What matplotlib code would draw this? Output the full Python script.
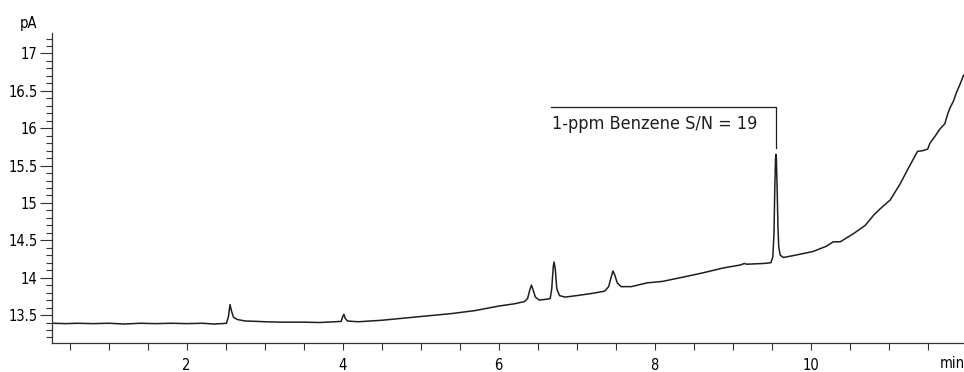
import matplotlib.pyplot as plt
from matplotlib.ticker import MultipleLocator, FuncFormatter

plt.rcParams['font.family'] = ['DejaVu Sans']
plt.rcParams['font.stretch'] = 'condensed'

# chromatogram trace (time in min, signal in pA)
time_min = [0.28, 0.45, 0.6, 0.8, 1.0, 1.2, 1.4, 1.6, 1.8, 2.0, 2.2, 2.35, 2.45, 2.51,
            2.535, 2.555, 2.575, 2.60, 2.65, 2.75, 2.9, 3.0, 3.2, 3.5, 3.7, 3.9, 3.98,
            4.0, 4.015, 4.03, 4.06, 4.2, 4.5, 4.8, 5.1, 5.4, 5.7, 6.0, 6.2, 6.33,
            6.37, 6.40, 6.42, 6.44, 6.47, 6.52, 6.6, 6.66, 6.68, 6.70, 6.71, 6.725,
            6.745, 6.78, 6.85, 7.0, 7.2, 7.36, 7.41, 7.44, 7.465, 7.49, 7.52, 7.57,
            7.7, 7.9, 8.1, 8.33, 8.6, 8.88, 9.1, 9.15, 9.18, 9.4, 9.49, 9.515, 9.53,
            9.54, 9.55, 9.555, 9.56, 9.57, 9.58, 9.59, 9.61, 9.65, 9.8, 10.03, 10.2,
            10.29, 10.38, 10.55, 10.7, 10.81, 10.9, 11.02, 11.15, 11.25, 11.37, 11.44,
            11.5, 11.53, 11.6, 11.65, 11.72, 11.76, 11.79, 11.83, 11.87, 11.92, 11.96,
            11.97]
signal_pa = [13.39, 13.385, 13.39, 13.385, 13.39, 13.38, 13.39, 13.385, 13.39, 13.385, 13.39, 13.38, 13.385, 13.39,
             13.48, 13.64, 13.55, 13.47, 13.44, 13.42, 13.415, 13.41, 13.405, 13.405, 13.40, 13.41, 13.415,
             13.48, 13.51, 13.46, 13.42, 13.41, 13.43, 13.46, 13.49, 13.52, 13.56, 13.62, 13.65, 13.68,
             13.72, 13.84, 13.90, 13.84, 13.74, 13.70, 13.71, 13.72, 13.85, 14.15, 14.21, 14.12,
             13.85, 13.76, 13.74, 13.76, 13.79, 13.82, 13.88, 14.00, 14.09, 14.03, 13.93, 13.88,
             13.88, 13.93, 13.95, 14.00, 14.06, 14.13, 14.17, 14.19, 14.18, 14.19, 14.20, 14.28, 14.60,
             15.20, 15.60, 15.65, 15.60, 15.20, 14.70, 14.42, 14.30, 14.27, 14.30, 14.35, 14.42,
             14.48, 14.48, 14.59, 14.70, 14.84, 14.93, 15.04, 15.26, 15.46, 15.69, 15.70,
             15.72, 15.80, 15.90, 15.98, 16.06, 16.20, 16.28, 16.36, 16.48, 16.60, 16.71,
             16.70]

peak_label = '1-ppm Benzene S/N = 19'
peak_window = (9.0, 10.0)  # where the benzene peak sits
label_level = 16.285       # height of the annotation bracket
label_start = 6.67         # left end of the bracket

fig = plt.figure(figsize=(9.64, 3.72), dpi=100)
ax = fig.add_axes([0.0543, 0.0788, 0.9457, 0.8317])

ax.plot(time_min, signal_pa, color='#1e1e1e', lw=1.1)

# bracket over the benzene peak
in_win = [(v, t) for t, v in zip(time_min, signal_pa) if peak_window[0] <= t <= peak_window[1]]
peak_y, peak_t = max(in_win)
ax.plot([label_start, peak_t, peak_t], [label_level, label_level, peak_y + 0.08],
        color='#1e1e1e', lw=0.9)
ax.text(label_start + 0.01, label_level - 0.225, peak_label, fontsize=13,
        ha='left', va='center', color='#1e1e1e')

ax.set_xlim(0.277, 11.966)
ax.set_ylim(13.13, 17.27)
ax.spines['top'].set_visible(False)
ax.spines['right'].set_visible(False)
for s in ('left', 'bottom'):
    ax.spines[s].set_color('#333333')
    ax.spines[s].set_linewidth(0.9)

ax.xaxis.set_major_locator(MultipleLocator(2))
ax.xaxis.set_minor_locator(MultipleLocator(0.5))
ax.yaxis.set_major_locator(MultipleLocator(0.5))
ax.yaxis.set_minor_locator(MultipleLocator(0.1))
ax.yaxis.set_major_formatter(FuncFormatter(lambda v, p: '%g' % v))

ax.tick_params(axis='x', which='both', length=5, width=0.8, color='#333333',
               pad=6, labelsize=10.5)
ax.tick_params(axis='y', which='major', length=8.5, width=0.8, color='#333333',
               pad=2, labelsize=10.5)
ax.tick_params(axis='y', which='minor', length=4, width=0.8, color='#333333')

fig.text(0.030, 0.938, 'pA', fontsize=10.5, ha='center', va='center')
fig.text(0.975, 0.022, 'min', fontsize=10.5, ha='left', va='center')

fig.savefig('out.png', dpi=100)
